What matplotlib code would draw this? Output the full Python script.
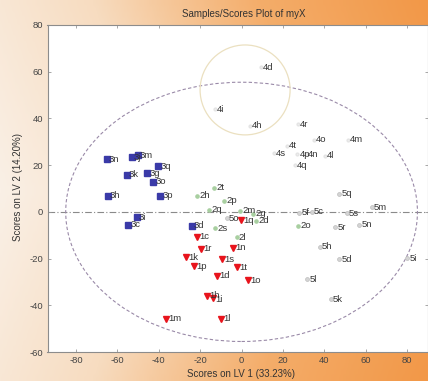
import numpy as np
import matplotlib
matplotlib.use("Agg")
import matplotlib.pyplot as plt
from matplotlib.patches import Ellipse
from matplotlib.colors import LinearSegmentedColormap

plt.rcParams['font.family'] = ['Liberation Sans', 'DejaVu Sans']

# ---- data ----
c1_names = ["1c", "1r", "1k", "1p", "1m", "1q", "1n", "1s", "1t", "1d", "1o", "1h", "1i", "1l"]
c1_x = [-21.4, -19.7, -26.8, -22.8, -36.5, -0.2, -4.0, -9.6, -2.0, -12.0, 3.0, -16.5, -13.6, -10.0]
c1_y = [-10.6, -15.9, -19.4, -23.2, -45.8, -3.7, -15.3, -20.3, -23.7, -27.4, -29.2, -36.0, -36.7, -45.8]

c2_names = ["2t", "2h", "2p", "2q", "2s", "2m", "2g", "2d", "2l", "2o"]
c2_x = [-13.3, -21.4, -8.3, -15.6, -12.8, -0.7, 5.5, 7.0, -2.3, 27.4]
c2_y = [10.4, 6.8, 4.8, 0.8, -7.0, 0.4, -0.9, -3.9, -10.9, -5.9]

c3_names = ["3n", "3j", "3m", "3q", "3k", "3g", "3o", "3h", "3p", "3i", "3c", "3d"]
c3_x = [-65.1, -53.0, -50.1, -40.2, -55.5, -45.5, -42.6, -64.8, -39.4, -50.6, -54.7, -24.1]
c3_y = [22.6, 23.4, 24.2, 19.6, 15.8, 16.5, 12.9, 6.9, 6.9, -2.3, -5.6, -5.9]

c4_names = ["4d", "4i", "4h", "4r", "4o", "4m", "4t", "4s", "4p", "4n", "4l", "4q"]
c4_x = [9.4, -12.8, 4.1, 27.3, 35.0, 51.2, 22.0, 15.5, 27.0, 31.0, 40.3, 25.6]
c4_y = [61.9, 44.0, 36.8, 37.6, 30.8, 30.8, 28.2, 25.1, 24.7, 24.7, 24.0, 20.0]

c5_names = ["5o", "5q", "5m", "5s", "5n", "5r", "5f", "5c", "5h", "5d", "5i", "5l", "5k"]
c5_x = [-7.2, 47.3, 62.9, 50.8, 56.9, 45.2, 27.9, 33.9, 37.9, 47.3, 80.1, 31.8, 43.1]
c5_y = [-2.8, 7.7, 2.0, -0.6, -5.6, -6.6, -0.3, 0.1, -14.9, -20.3, -19.9, -28.9, -37.4]

x_ticks = [-80, -60, -40, -20, 0, 20, 40, 60, 80]
y_ticks = [-60, -40, -20, 0, 20, 40, 60, 80]

title = "Samples/Scores Plot of myX"
xlabel = "Scores on LV 1 (33.23%)"
ylabel = "Scores on LV 2 (14.20%)"

# ---- figure ----
W, H = 428, 381
fig = plt.figure(figsize=(W / 100, H / 100), dpi=100)

# background gradient
bg = fig.add_axes([0, 0, 1, 1], zorder=-10)
cmap = LinearSegmentedColormap.from_list("bgc", ["#faf0e6", "#f7dcc0", "#f4ad6a", "#f29848"])
gx = np.linspace(0, 1, 256)
gy = np.linspace(0, 1, 64)
G = np.clip(gx[None, :] * 0.85 + (np.abs(gy[:, None] - 0.5) * 0.3), 0, 1)
bg.imshow(G, cmap=cmap, aspect='auto', extent=[0, 1, 0, 1], vmin=0, vmax=1)
bg.set_xlim(0, 1)
bg.set_ylim(0, 1)
bg.axis('off')

ax_l, ax_r = 47.5 / W, 1.0
ax_b, ax_t = (H - 352) / H, (H - 25) / H
ax = fig.add_axes([ax_l, ax_b, ax_r - ax_l, ax_t - ax_b])
ax.set_facecolor("white")
ax.set_xlim(-93.8, 90.1)
ax.set_ylim(-60, 80)

ax.axhline(0, color="#8a8a8a", lw=0.8, ls=(0, (6, 2, 1, 2)), zorder=1)

ax.add_patch(Ellipse((0, 0), 170, 111, fill=False, ec="#9a8aa8", lw=0.8, ls=(0, (3, 2)), zorder=1))
ax.add_patch(Ellipse((1.7, 52.2), 43.5, 38.5, fill=False, ec="#ebe0c0", lw=0.9, zorder=1))

txt_kw = dict(textcoords="offset points", ha="left", va="center",
              fontsize=6.8, color="#333333", zorder=4)

def label_all(names, xs, ys):
    for n, x, y in zip(names, xs, ys):
        dy = -1.5 if n == "1i" else 0
        ax.annotate(n, (x, y), xytext=(1.5, dy), **txt_kw)

ax.plot(c1_x, c1_y, ls="none", marker="v", ms=3.8, color="#e8141c", mec="#e8141c", zorder=3)
label_all(c1_names, c1_x, c1_y)

ax.plot(c2_x, c2_y, ls="none", marker="o", ms=2.3, color="#a8cfa0", mec="#a8cfa0", zorder=3)
label_all(c2_names, c2_x, c2_y)

ax.plot(c3_x, c3_y, ls="none", marker="s", ms=3.8, color="#3a3aa8", mec="#3a3aa8", zorder=3)
label_all(c3_names, c3_x, c3_y)

ax.plot(c4_x, c4_y, ls="none", marker="o", ms=2.0, color="#eeeeee", mec="#e4e4e4", zorder=3)
label_all(c4_names, c4_x, c4_y)

ax.plot(c5_x, c5_y, ls="none", marker="o", ms=2.8, color="#d4d4d4", mec="#bdbdbd", mew=0.5, zorder=3)
label_all(c5_names, c5_x, c5_y)

ax.set_xticks(x_ticks)
ax.set_yticks(y_ticks)
ax.set_xticklabels([str(t) for t in x_ticks])
ax.set_yticklabels([str(t) for t in y_ticks])
ax.tick_params(direction="in", length=2.5, width=0.6, colors="#999999", labelcolor="#444444",
               labelsize=6.8, top=True, right=True, pad=3)
for s in ax.spines.values():
    s.set_color("#8c8c8c")
    s.set_linewidth(0.8)

fig.text(244 / W, 1 - 14 / H, title, ha="center", va="center", fontsize=7, color="#333333")
fig.text(241 / W, 1 - 374 / H, xlabel, ha="center", va="center", fontsize=7, color="#333333")
fig.text(18 / W, 1 - 187 / H, ylabel, ha="center", va="center", rotation=90, fontsize=7, color="#333333")

fig.savefig("out.png", dpi=100)
